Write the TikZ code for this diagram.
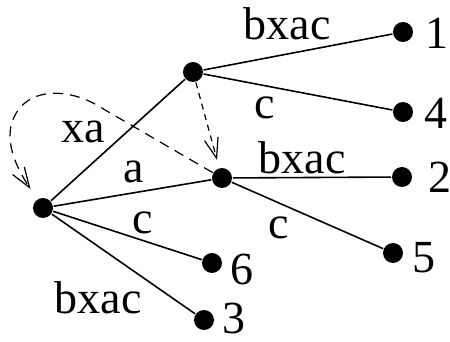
\documentclass[tikz,border=0pt]{standalone}
\usepackage{fontspec}
\setmainfont{Liberation Serif}
\usetikzlibrary{arrows.meta}

\tikzset{
  dot/.style={circle,fill=black,inner sep=0pt,minimum size=10pt},
  edgelabel/.style={inner sep=0pt,font=\fontsize{23}{25}\selectfont},
  suffixlink/.style={dashed,line width=0.6pt,-{Straight Barb[length=10pt,width=7pt]}}
}

\begin{document}
\begin{tikzpicture}[x=0.5pt,y=-0.5pt,line width=0.8pt]
				\useasboundingbox (0,0) rectangle (450,342);
				% inner nodes
				\node[dot] (r) at (43,208) {};
				\node[dot] (u) at (193,72) {};
				\node[dot] (v) at (222,178) {};
				% leaves
				\node[dot] (l1) at (403,32) {};
				\node[dot] (l4) at (403,112) {};
				\node[dot] (l2) at (402,177) {};
				\node[dot] (l5) at (393,253) {};
				\node[dot] (l6) at (212,263) {};
				\node[dot] (l3) at (204,320) {};
				% edges
				\draw (r) -- (u);
				\draw (r) -- (v);
				\draw (r) -- (l6);
				\draw (r) -- (l3);
				\draw (u) -- (l1);
				\draw (u) -- (l4);
				\draw (v) -- (l2);
				\draw (v) -- (l5);
				% suffix links
				\draw[suffixlink,dash pattern=on 3pt off 2.5pt,shorten >=4pt] (u) -- (v);
				\draw[suffixlink,dash pattern=on 5pt off 3.5pt,shorten >=6pt] (v) -- (100,107)
					.. controls (70,88) and (25,85) .. (12,122)
					.. controls (5,145) and (18,170) .. (r);
				% edge labels
				\node[edgelabel] (e1) at (287,24) {bxac};
				\node[edgelabel] (e4) at (265,108) {c};
				\node[edgelabel] (exa) at (83,132) {xa};
				\node[edgelabel] (ea) at (134,172) {a};
				\node[edgelabel] (e2) at (302,158) {bxac};
				\node[edgelabel] (e5) at (279,228) {c};
				\node[edgelabel] (e6) at (143,223) {c};
				\node[edgelabel] (e3) at (98,298) {bxac};
				% leaf numbers
				\node[edgelabel] (n1) at (437,33) {1};
				\node[edgelabel] (n4) at (436,113) {4};
				\node[edgelabel] (n2) at (440,177) {2};
				\node[edgelabel] (n5) at (424,258) {5};
				\node[edgelabel] (n6) at (242,269) {6};
				\node[edgelabel] (n3) at (234,318) {3};
			\end{tikzpicture}
\end{document}
